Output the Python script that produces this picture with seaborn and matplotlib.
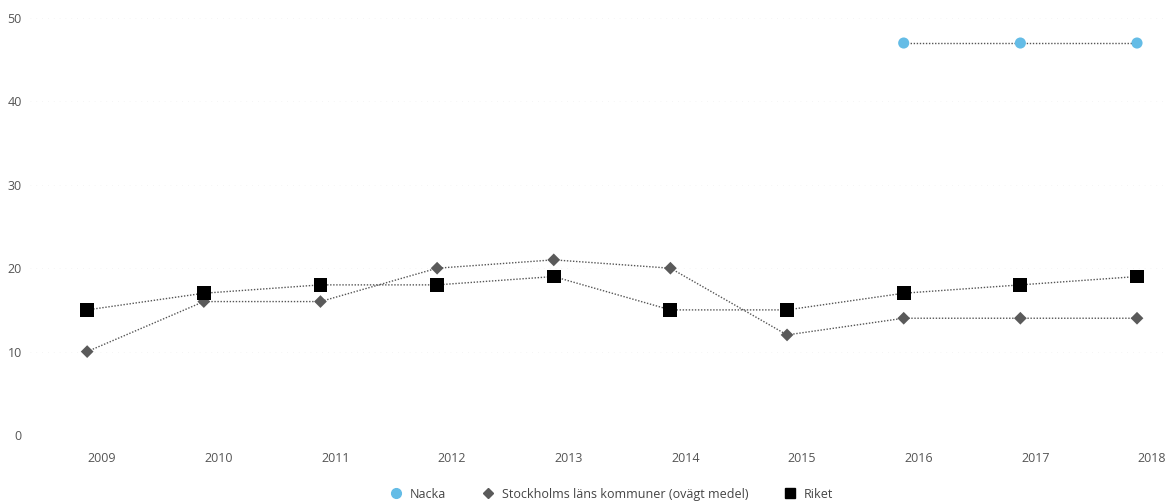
import numpy as np
import pandas as pd
import matplotlib
matplotlib.use("Agg")
import matplotlib.pyplot as plt
import matplotlib.transforms as mtransforms
import seaborn as sns
from matplotlib.lines import Line2D

years = ["2009", "2010", "2011", "2012", "2013", "2014", "2015", "2016", "2017", "2018"]
nacka = [np.nan, np.nan, np.nan, np.nan, np.nan, np.nan, np.nan, 47, 47, 47]
stockholm = [10, 16, 16, 20, 21, 20, 12, 14, 14, 14]
riket = [15, 17, 18, 18, 19, 15, 15, 17, 18, 19]
series_names = ["Nacka", "Stockholms läns kommuner (ovägt medel)", "Riket"]
yticks = [0, 10, 20, 30, 40, 50]

sns.set_theme(style="white")
plt.rcParams['font.family'] = ['Open Sans', 'DejaVu Sans']

rows = []
for name, vals in zip(series_names, [nacka, stockholm, riket]):
    for i, v in enumerate(vals):
        rows.append({"idx": i, "year": years[i], "value": v, "serie": name})
df = pd.DataFrame(rows)

colors = {"Nacka": "#64BCE6", "Stockholms läns kommuner (ovägt medel)": "#5A5A5A", "Riket": "#000000"}
markers = {"Nacka": "o", "Stockholms läns kommuner (ovägt medel)": "D", "Riket": "s"}
msizes = {"Nacka": 8, "Stockholms läns kommuner (ovägt medel)": 6.5, "Riket": 10}

fig = plt.figure(figsize=(11.69, 5.04), dpi=100)
ax = fig.add_axes([30/1169, 1-435/504, (1165-30)/1169, (435-18)/504])

for name in series_names:
    sub = df[df.serie == name].dropna()
    sns.lineplot(data=sub, x="idx", y="value", ax=ax, color="#555555",
                 linestyle=(0, (1, 1.2)), linewidth=1.0, legend=False)
    sns.scatterplot(data=sub, x="idx", y="value", ax=ax, color=colors[name],
                    marker=markers[name], s=msizes[name]**2, edgecolor="none",
                    legend=False, zorder=5)

ax.set_xlim(-0.49, 9.24)
ax.set_ylim(0, 50)
ax.set_xticks(range(len(years)))
ax.set_xticklabels(years)
ax.set_yticks(yticks)
ax.set_xlabel("")
ax.set_ylabel("")
for s in ax.spines.values():
    s.set_visible(False)
ax.tick_params(axis="x", length=0, pad=12, labelsize=9, labelcolor="#555555")
ax.tick_params(axis="y", length=2, width=0.6, color="#aaaaaa", pad=4, labelsize=9, labelcolor="#555555")
ax.yaxis.grid(True, color="#f2f2f2", linestyle=(0, (1, 6)), linewidth=0.6)

offset = mtransforms.ScaledTranslation(15/100, 0, fig.dpi_scale_trans)
for lab in ax.get_xticklabels():
    lab.set_transform(lab.get_transform() + offset)

handles = [Line2D([], [], color=colors[n], marker=markers[n], linestyle="none",
                  markersize={"Nacka": 7, "Stockholms läns kommuner (ovägt medel)": 5, "Riket": 7}[n])
           for n in series_names]
leg = fig.legend(handles, series_names, loc="lower center", bbox_to_anchor=(0.522, -0.016),
                 ncol=3, frameon=False, fontsize=9, handletextpad=0.35, columnspacing=2.6,
                 handlelength=1.5, labelcolor="#444444")

fig.savefig("out.png", dpi=100)
